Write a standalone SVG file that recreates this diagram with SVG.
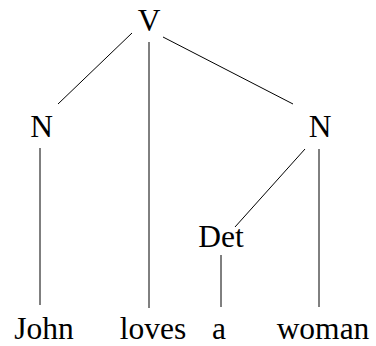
<svg xmlns="http://www.w3.org/2000/svg" width="376" height="346" viewBox="0 0 376 346">
<style>
text{font-family:"Liberation Serif","Times New Roman",serif;font-size:31.5px;fill:#000;text-anchor:middle}
line{stroke:#000;stroke-width:1}
</style>
<rect width="376" height="346" fill="#fff"/>
<g id="connectors">
<line x1="132" y1="33" x2="58" y2="104"/>
<line x1="149" y1="42" x2="149" y2="308"/>
<line x1="163" y1="37" x2="293" y2="104"/>
<line x1="40" y1="148" x2="40" y2="305"/>
<line x1="305" y1="149" x2="235" y2="227"/>
<line x1="319" y1="149" x2="319" y2="307"/>
<line x1="221" y1="255" x2="221" y2="307"/>
</g>
<g id="V"><text x="149" y="31">V</text></g>
<g id="N1"><text x="41.5" y="137">N</text></g>
<g id="N2"><text x="320" y="137">N</text></g>
<g id="Det"><text x="221" y="247">Det</text></g>
<g id="John"><text x="44" y="339">John</text></g>
<g id="loves"><text x="153" y="339">loves</text></g>
<g id="a"><text x="219" y="339">a</text></g>
<g id="woman"><text x="323" y="339">woman</text></g>
</svg>
